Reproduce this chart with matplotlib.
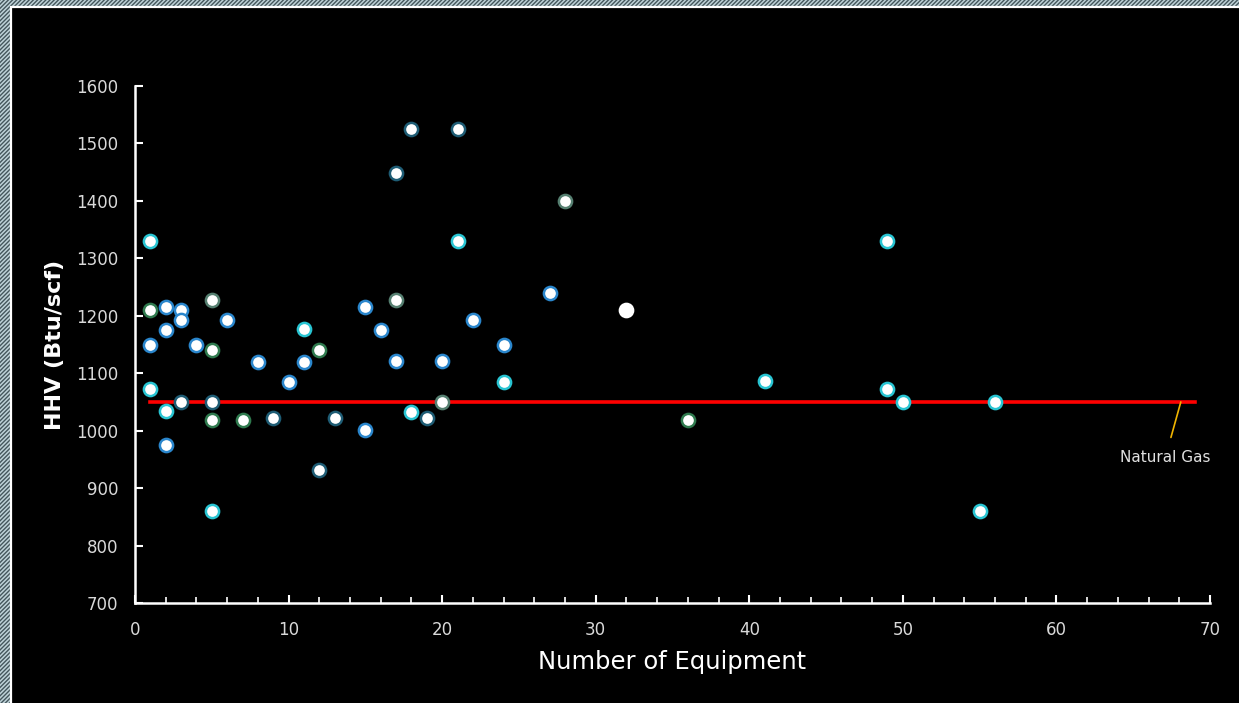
import matplotlib.pyplot as plt
from matplotlib.patches import Rectangle

# HHV vs number of equipment, grouped by marker edge colour
blue_x = [1, 2, 2, 2, 3, 3, 4, 6, 8, 10, 11, 15, 15, 16, 17, 20, 22, 24, 27]
blue_y = [1150, 1215, 1175, 975, 1210, 1192, 1150, 1192, 1120, 1085, 1120, 1215, 1002, 1175, 1122, 1122, 1192, 1150, 1240]

cyan_x = [1, 1, 2, 5, 11, 18, 21, 24, 41, 49, 49, 50, 55, 56]
cyan_y = [1330, 1072, 1035, 860, 1177, 1032, 1330, 1085, 1087, 1330, 1072, 1050, 860, 1050]

teal_x = [3, 5, 9, 12, 13, 17, 18, 19, 21]
teal_y = [1050, 1050, 1022, 932, 1022, 1448, 1525, 1022, 1525]

green_x = [1, 5, 5, 7, 12, 36]
green_y = [1210, 1140, 1018, 1018, 1140, 1018]

grey_x = [5, 17, 20, 28]
grey_y = [1228, 1228, 1050, 1400]

white_x = [32]
white_y = [1210]

gas_x = [1, 69]
gas_y = [1050, 1050]

fig = plt.figure(figsize=(12.39, 7.03), dpi=100, facecolor='black')
plt.rcParams['hatch.linewidth'] = 1.0

# hatched frame on the top/left edges
W, H = 1239, 703
fig.patches.append(Rectangle((0, 0), 1, 1, transform=fig.transFigure,
                             facecolor='#bed2d8', edgecolor='#44565c', hatch='////////',
                             linewidth=0, zorder=-3))
fig.patches.append(Rectangle((11 / W, -0.01), 1.0, 1.01 - 7 / H, transform=fig.transFigure,
                             facecolor='black', edgecolor='white', linewidth=1.6, zorder=-2))

ax = fig.add_axes([135 / W, 100 / H, 1075 / W, 517 / H])
ax.set_facecolor('black')

ms, mew = 9.5, 1.8
ax.plot(blue_x, blue_y, 'o', ms=ms, mfc='white', mec='#2a86cc', mew=mew, zorder=3)
ax.plot(cyan_x, cyan_y, 'o', ms=ms, mfc='white', mec='#28c4d2', mew=mew, zorder=3)
ax.plot(teal_x, teal_y, 'o', ms=ms, mfc='white', mec='#1e5c74', mew=mew, zorder=3)
ax.plot(green_x, green_y, 'o', ms=ms, mfc='white', mec='#2f7a4e', mew=mew, zorder=3)
ax.plot(grey_x, grey_y, 'o', ms=ms, mfc='white', mec='#557f70', mew=mew, zorder=3)
ax.plot(white_x, white_y, 'o', ms=ms, mfc='white', mec='white', mew=mew, zorder=3)
ax.plot(gas_x, gas_y, color='#ff0000', lw=2.6, zorder=2)

ax.annotate('Natural Gas', xy=(68.1, 1050), xytext=(67.1, 954),
            color='#e0e0e0', fontsize=11, ha='center', va='center',
            arrowprops=dict(arrowstyle='-', color='#f0b400', lw=1.2, shrinkA=7, shrinkB=0))

ax.set_xlim(0, 70)
ax.set_ylim(700, 1600)
ax.set_xticks(range(0, 71, 10))
ax.set_xticks(range(0, 71, 2), minor=True)
ax.set_yticks(range(700, 1601, 100))

for s in ['top', 'right']:
    ax.spines[s].set_visible(False)
for s in ['left', 'bottom']:
    ax.spines[s].set_color('white')
    ax.spines[s].set_linewidth(1.8)

ax.tick_params(axis='both', which='major', direction='in', length=6, width=1.5,
               colors='white', labelcolor='#d9d9d9', labelsize=12)
ax.tick_params(axis='y', which='major', pad=12)
ax.tick_params(axis='x', which='major', pad=13)
ax.tick_params(axis='x', which='minor', direction='in', length=4, width=1.2, colors='white')

ax.set_xlabel('Number of Equipment', color='white', fontsize=17.5, labelpad=8)
ax.set_ylabel('HHV (Btu/scf)', color='white', fontsize=16, fontweight='bold', labelpad=8)

plt.savefig('out.png', dpi=100, facecolor=fig.get_facecolor())
